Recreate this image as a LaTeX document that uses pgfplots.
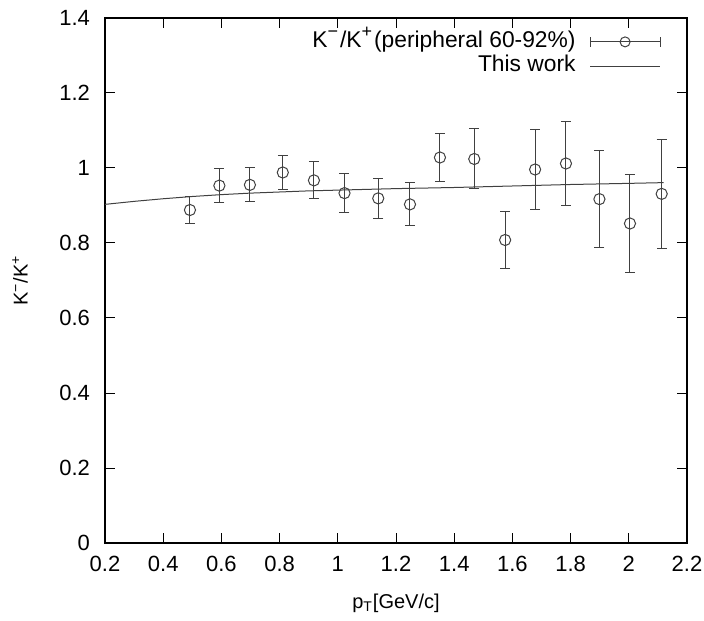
\documentclass[border=0pt]{standalone}
\usepackage{fontspec}
\setmainfont{Liberation Sans}
\usepackage{pgfplots}
\pgfplotsset{compat=1.18}
\usepackage{pgfplotstable}
\newcommand{\sups}[1]{\raisebox{0.85ex}{\fontsize{9}{10}\selectfont #1}}
\pgfplotstableread{
x y e
0.492 0.888 0.035
0.593 0.953 0.045
0.698 0.955 0.045
0.811 0.988 0.045
0.918 0.967 0.049
1.023 0.933 0.051
1.139 0.919 0.053
1.248 0.903 0.057
1.351 1.028 0.064
1.469 1.024 0.080
1.575 0.808 0.077
1.678 0.996 0.106
1.784 1.012 0.113
1.899 0.917 0.130
2.004 0.852 0.130
2.113 0.931 0.145
}\ratio
\pgfplotstableread{
x y
0.2 0.903
0.3 0.911
0.4 0.918
0.5 0.924
0.6 0.929
0.7 0.933
0.8 0.936
0.9 0.939
1.0 0.941
1.2 0.945
1.4 0.948
1.6 0.952
1.8 0.956
2.0 0.959
2.12 0.961
}\model
\begin{document}
\begin{tikzpicture}
\begin{axis}[name=ax, scale only axis, width=291pt, height=262.5pt,
  xmin=0.2, xmax=2.2, ymin=0, ymax=1.4,
  xtick={0.2,0.4,0.6,0.8,1,1.2,1.4,1.6,1.8,2,2.2},
  ytick={0,0.2,0.4,0.6,0.8,1,1.2,1.4},
  tick align=inside, major tick length=5pt,
  axis line style={black, line width=0.6pt},
  tick style={black, line width=0.5pt},
  /pgf/number format/assume math mode=true,
  ticklabel style={font=\fontsize{11}{13}\selectfont},
  yticklabel style={xshift=-4pt},
  xticklabel style={yshift=-3pt},
  label style={font=\fontsize{11.3}{13}\selectfont},
  xlabel={p\textsubscript{T}[GeV/c]},
  ylabel={K\textsuperscript{−}/K\textsuperscript{+}},
  every axis x label/.style={at={(axis description cs:0.5,-0.114)}, anchor=center},
  every axis y label/.style={at={(axis description cs:-0.146,0.5)}, anchor=center, rotate=90},
  legend plot pos=right, legend cell align=right,
  legend style={draw=none, fill=none, at={(axis description cs:1,1)}, anchor=north east,
    xshift=-13pt, yshift=-4.5pt, font=\fontsize{11.4}{13}\selectfont, row sep=-2.4pt, column sep=5pt, inner sep=0pt,
    nodes={inner sep=2pt, text height=8pt, text depth=2.5pt}},
]
\addplot[only marks, mark=o, black!75, mark size=2.8pt,
  mark options={solid, fill=none, line width=0.5pt},
  legend image code/.code={
    \draw[black!75, line width=0.5pt] (0pt,0pt) -- (35pt,0pt) (0pt,-2.5pt) -- (0pt,2.5pt) (35pt,-2.5pt) -- (35pt,2.5pt);
    \draw[black!75, line width=0.5pt] (17.5pt,0pt) circle (2.5pt);},
  error bars/.cd, y dir=both, y explicit, error mark=-,
  error bar style={black!75, line width=0.5pt},
  error mark options={rotate=90, black!75, mark size=2.5pt, line width=0.5pt}]
  table[x=x, y=y, y error=e] {\ratio};
\addlegendentry{K\sups{−}\kern1pt/K\sups{+}\kern1pt(peripheral 60-92\%)}
\addplot[black!75, line width=0.5pt,
  legend image code/.code={\draw[black!75, line width=0.5pt] (0pt,0pt) -- (35pt,0pt);}]
  table[x=x, y=y] {\model};
\addlegendentry{This work}
\end{axis}
\pgfresetboundingbox
\path ([shift={(-52.5pt,-38.5pt)}]ax.south west) rectangle ([shift={(8.5pt,9pt)}]ax.north east);
\end{tikzpicture}
\end{document}
